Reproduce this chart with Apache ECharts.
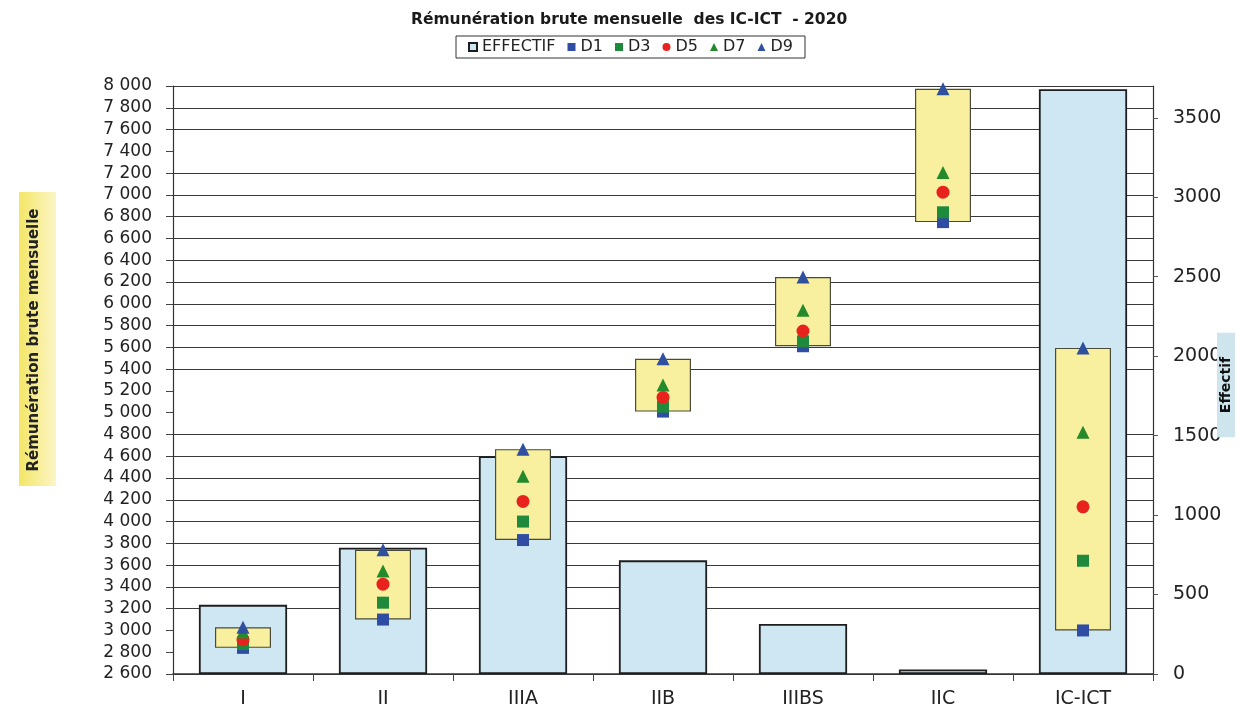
<!DOCTYPE html>
<html>
<head>
<meta charset="utf-8">
<script src="https://cdn.jsdelivr.net/npm/echarts@6/dist/echarts.min.js"></script>
<style>
html,body{margin:0;padding:0;background:#fff;}
#chart{width:1241px;height:710px;}
</style>
</head>
<body>
<div id="chart"></div>
<script>
const categories = ['I', 'II', 'IIIA', 'IIB', 'IIIBS', 'IIC', 'IC-ICT'];
const effectif = [435, 795, 1370, 715, 315, 28, 3680];
const d1 = [2840, 3100, 3830, 5010, 5610, 6750, 3000];
const d3 = [2875, 3255, 4000, 5055, 5655, 6840, 3640];
const d5 = [2915, 3425, 4185, 5140, 5750, 7025, 4135];
const d7 = [2985, 3545, 4415, 5255, 5940, 7205, 4820];
const d9 = [3030, 3740, 4665, 5495, 6245, 7975, 5595];
const titleText = 'Rémunération brute mensuelle  des IC-ICT  - 2020';
const leftAxisTitle = 'Rémunération brute mensuelle';
const rightAxisTitle = 'Effectif';

const boxSpan = d9.map((v, i) => v - d1[i]);
const FONT = 'DejaVu Sans';

// gridline visibility (ticks 2600..8000 step 200)
const hiddenLines = [1, 2, 12, 13, 24];
const gridColors = [];
for (let i = 0; i < 28; i++) gridColors.push(hiddenLines.indexOf(i) >= 0 ? 'rgba(0,0,0,0)' : '#3a3a3a');

const chart = echarts.init(document.getElementById('chart'), null, {renderer: 'canvas'});
const fmtSpace = v => String(v).replace(/\B(?=(\d{3})+(?!\d))/g, ' ');

chart.setOption({
  animation: false,
  backgroundColor: '#fff',
  title: {
    text: titleText,
    left: 411, top: 12, padding: 0,
    textStyle: {fontFamily: FONT, fontSize: 15.5, fontWeight: 'bold', color: '#1a1a1a'}
  },
  legend: {
    left: 456, top: 36,
    padding: [3, 12],
    itemGap: 12,
    itemWidth: 8, itemHeight: 8,
    borderColor: '#333', borderWidth: 1,
    textStyle: {fontFamily: FONT, fontSize: 16, color: '#222'},
    data: [
      {name: 'EFFECTIF', icon: 'rect'},
      {name: 'D1', icon: 'rect'},
      {name: 'D3', icon: 'rect'},
      {name: 'D5', icon: 'circle'},
      {name: 'D7', icon: 'triangle'},
      {name: 'D9', icon: 'triangle'}
    ]
  },
  graphic: [
    {
      type: 'rect', left: 19, top: 192, z: 0,
      shape: {width: 37, height: 294},
      style: {fill: new echarts.graphic.LinearGradient(0, 0, 1, 0, [
        {offset: 0, color: '#f3e667'}, {offset: 1, color: '#fbf5c6'}])}
    },
    {
      type: 'text', x: 34, y: 340, rotation: Math.PI / 2, z: 1,
      style: {text: leftAxisTitle, fill: '#222', font: 'bold 15px "DejaVu Sans"', align: 'center', verticalAlign: 'middle'}
    },
    {
      type: 'text', x: 1226, y: 385, rotation: Math.PI / 2, z: 100,
      style: {text: rightAxisTitle, fill: '#111', font: 'bold 14px "DejaVu Sans"', align: 'center', verticalAlign: 'middle',
        backgroundColor: '#cfe5ee', padding: [2, 24]}
    }
  ],
  grid: {left: 173, right: 88, top: 86, bottom: 36, containLabel: false, outerBoundsMode: 'none'},
  xAxis: [
    {
      type: 'category', data: categories,
      axisLine: {show: true, lineStyle: {color: '#333', width: 1.5}},
      axisTick: {show: true, length: 7, lineStyle: {color: '#444'}},
      axisLabel: {fontFamily: FONT, fontSize: 19, color: '#222', margin: 16}
    },
    {type: 'category', data: categories, show: false}
  ],
  yAxis: [
    {
      type: 'value', min: 2600, max: 8000, interval: 200,
      axisLine: {show: true, lineStyle: {color: '#333', width: 1.2}},
      axisTick: {show: true, length: 7, lineStyle: {color: '#444'}},
      axisLabel: {fontFamily: FONT, fontSize: 17, color: '#222', margin: 21, formatter: fmtSpace},
      splitLine: {show: true, lineStyle: {color: gridColors, width: 1.2}}
    },
    {
      type: 'value', min: 0, max: 3700, interval: 500, position: 'right',
      axisLine: {show: true, lineStyle: {color: '#333', width: 1.2}},
      axisTick: {show: true, length: 5, lineStyle: {color: '#555'}},
      axisLabel: {fontFamily: FONT, fontSize: 19, color: '#222', margin: 20, showMaxLabel: false, formatter: v => String(v)},
      splitLine: {show: false}
    }
  ],
  series: [
    {
      name: 'EFFECTIF', type: 'bar', xAxisIndex: 0, yAxisIndex: 1,
      data: effectif, barWidth: '63%', z: 2,
      itemStyle: {color: '#cfe7f2', borderColor: '#1e1e1e', borderWidth: 1.8}
    },
    {
      name: 'base', type: 'bar', xAxisIndex: 1, yAxisIndex: 0, stack: 'box',
      data: d1, barWidth: '40%', z: 3, silent: true,
      itemStyle: {color: 'rgba(0,0,0,0)'}
    },
    {
      name: 'box', type: 'bar', xAxisIndex: 1, yAxisIndex: 0, stack: 'box',
      data: boxSpan, barWidth: '40%', z: 3, silent: true,
      itemStyle: {color: '#f8f09e', borderColor: '#4a4a3a', borderWidth: 1.2}
    },
    {name: 'D1', type: 'scatter', xAxisIndex: 0, yAxisIndex: 0, data: d1, symbol: 'rect', symbolSize: 12, z: 4, itemStyle: {color: '#2f4ea3', opacity: 1}},
    {name: 'D3', type: 'scatter', xAxisIndex: 0, yAxisIndex: 0, data: d3, symbol: 'rect', symbolSize: 12, z: 4, itemStyle: {color: '#1f8a3b', opacity: 1}},
    {name: 'D5', type: 'scatter', xAxisIndex: 0, yAxisIndex: 0, data: d5, symbol: 'circle', symbolSize: 13, z: 4, itemStyle: {color: '#e8231d', opacity: 1}},
    {name: 'D7', type: 'scatter', xAxisIndex: 0, yAxisIndex: 0, data: d7, symbol: 'triangle', symbolSize: 13, z: 4, itemStyle: {color: '#258a2c', opacity: 1}},
    {name: 'D9', type: 'scatter', xAxisIndex: 0, yAxisIndex: 0, data: d9, symbol: 'triangle', symbolSize: 13, z: 4, itemStyle: {color: '#2f4f9f', opacity: 1}}
  ]
});
</script>
</body>
</html>
